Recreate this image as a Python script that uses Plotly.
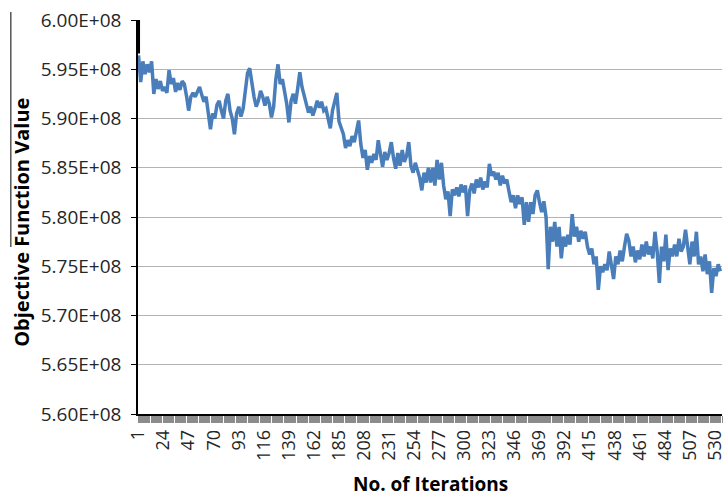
import plotly.graph_objects as go

# Iteration numbers (every 2nd iteration)
iterations = list(range(1, 536, 2))

# Objective function value, in units of 1E+08
objective_e8 = [
    5.964, 5.937, 5.958, 5.945, 5.955, 5.947, 5.958, 5.925, 5.940, 5.930,
    5.938, 5.928, 5.932, 5.926, 5.949, 5.935, 5.941, 5.927, 5.936, 5.929,
    5.938, 5.935, 5.923, 5.908, 5.922, 5.926, 5.922, 5.928, 5.932, 5.924,
    5.917, 5.922, 5.902, 5.889, 5.905, 5.900, 5.914, 5.918, 5.908, 5.900,
    5.918, 5.925, 5.908, 5.900, 5.884, 5.905, 5.912, 5.902, 5.910, 5.930,
    5.946, 5.951, 5.935, 5.922, 5.912, 5.918, 5.928, 5.922, 5.913, 5.922,
    5.915, 5.901, 5.912, 5.940, 5.955, 5.935, 5.940, 5.928, 5.915, 5.896,
    5.918, 5.925, 5.915, 5.930, 5.947, 5.932, 5.922, 5.915, 5.906, 5.912,
    5.903, 5.910, 5.918, 5.911, 5.917, 5.908, 5.910, 5.900, 5.890, 5.908,
    5.918, 5.926, 5.897, 5.890, 5.884, 5.870, 5.878, 5.872, 5.882, 5.876,
    5.886, 5.898, 5.874, 5.860, 5.868, 5.848, 5.862, 5.855, 5.864, 5.858,
    5.878, 5.862, 5.851, 5.866, 5.858, 5.865, 5.876, 5.860, 5.849, 5.865,
    5.852, 5.868, 5.856, 5.862, 5.876, 5.852, 5.845, 5.855, 5.848, 5.840,
    5.827, 5.845, 5.835, 5.850, 5.835, 5.850, 5.832, 5.858, 5.838, 5.855,
    5.832, 5.818, 5.826, 5.801, 5.828, 5.822, 5.830, 5.821, 5.833, 5.825,
    5.832, 5.801, 5.827, 5.834, 5.824, 5.838, 5.830, 5.840, 5.828, 5.836,
    5.830, 5.854, 5.842, 5.846, 5.838, 5.845, 5.832, 5.842, 5.834, 5.838,
    5.826, 5.815, 5.822, 5.809, 5.822, 5.813, 5.820, 5.792, 5.815, 5.795,
    5.815, 5.803, 5.822, 5.827, 5.815, 5.805, 5.816, 5.800, 5.747, 5.790,
    5.775, 5.795, 5.770, 5.790, 5.758, 5.780, 5.770, 5.782, 5.772, 5.803,
    5.780, 5.790, 5.775, 5.786, 5.778, 5.785, 5.770, 5.762, 5.768, 5.752,
    5.760, 5.726, 5.750, 5.744, 5.752, 5.746, 5.765, 5.748, 5.737, 5.760,
    5.752, 5.766, 5.755, 5.770, 5.783, 5.776, 5.760, 5.770, 5.754, 5.766,
    5.757, 5.772, 5.760, 5.775, 5.762, 5.770, 5.758, 5.785, 5.765, 5.733,
    5.770, 5.755, 5.782, 5.746, 5.768, 5.760, 5.772, 5.760, 5.778, 5.765,
    5.770, 5.787, 5.768, 5.752, 5.775, 5.760, 5.785, 5.752, 5.760, 5.745,
    5.762, 5.742, 5.755, 5.723, 5.748, 5.740, 5.752, 5.745,
]
assert len(objective_e8) == len(iterations)

# Short black start segment at iteration 1 (in 1E+08 units)
start_x = [1, 1]
start_e8 = [6.000, 5.966]

y_tick_vals_e8 = [5.60, 5.65, 5.70, 5.75, 5.80, 5.85, 5.90, 5.95, 6.00]
y_tick_text = ["5.60E+08", "5.65E+08", "5.70E+08", "5.75E+08", "5.80E+08",
               "5.85E+08", "5.90E+08", "5.95E+08", "6.00E+08"]
x_tick_vals = [1, 24, 47, 70, 93, 116, 139, 162, 185, 208, 231, 254, 277,
               300, 323, 346, 369, 392, 415, 438, 461, 484, 507, 530]
x_tick_text = [str(v) for v in x_tick_vals]

SCALE = 1e8
FONT = "Open Sans"

fig = go.Figure()
fig.add_trace(go.Scatter(
    x=iterations, y=[v * SCALE for v in objective_e8],
    mode="lines", line=dict(color="#4a7ebb", width=3.5),
    showlegend=False,
))
fig.add_trace(go.Scatter(
    x=start_x, y=[v * SCALE for v in start_e8],
    mode="lines", line=dict(color="#000000", width=3),
    showlegend=False,
))

fig.update_layout(
    width=726, height=498,
    margin=dict(l=138, r=0, t=20, b=84),
    paper_bgcolor="white", plot_bgcolor="white",
    font=dict(family=FONT, color="#262626"),
)
fig.update_yaxes(
    range=[5.60 * SCALE, 6.00 * SCALE],
    tickmode="array",
    tickvals=[v * SCALE for v in y_tick_vals_e8],
    ticktext=y_tick_text,
    tickfont=dict(family=FONT, size=19, color="#262626"),
    showgrid=True, gridcolor="#b4b4b4", gridwidth=1,
    showline=True, linecolor="#000000", linewidth=1.5,
    ticks="outside", ticklen=5, tickcolor="#000000",
    ticklabelstandoff=6,
    zeroline=False,
)
fig.update_xaxes(
    type="linear",
    range=[0.5, 536.5],
    tickmode="array",
    tickvals=x_tick_vals,
    ticktext=x_tick_text,
    tickangle=-90,
    tickfont=dict(family=FONT, size=18, color="#262626"),
    ticklabeloverflow="allow",
    showgrid=False,
    showline=True, linecolor="#000000", linewidth=1.5,
    ticks="outside", ticklen=7, tickcolor="#8c8c8c",
    minor=dict(ticks="outside", dtick=1, tick0=0.5, ticklen=7,
               tickcolor="#8c8c8c", showgrid=False),
    zeroline=False,
)

fig.add_annotation(
    text="<b>Objective Function Value</b>", textangle=-90,
    xref="paper", yref="paper", x=(20 - 138) / 588, y=(414 - 222) / 394,
    xanchor="center", yanchor="middle", showarrow=False,
    font=dict(family=FONT, size=20, color="#000000"),
)
fig.add_annotation(
    text="<b>No. of Iterations</b>",
    xref="paper", yref="paper", x=(432 - 138) / 588, y=(414 - 484) / 394,
    xanchor="center", yanchor="middle", showarrow=False,
    font=dict(family=FONT, size=19, color="#000000"),
)
fig.add_shape(
    type="line", xref="paper", yref="paper",
    x0=(10 - 138) / 588, x1=(10 - 138) / 588,
    y0=(414 - 247) / 394, y1=(414 - 12) / 394,
    line=dict(color="#000000", width=1),
)

fig.write_html("out.html")
